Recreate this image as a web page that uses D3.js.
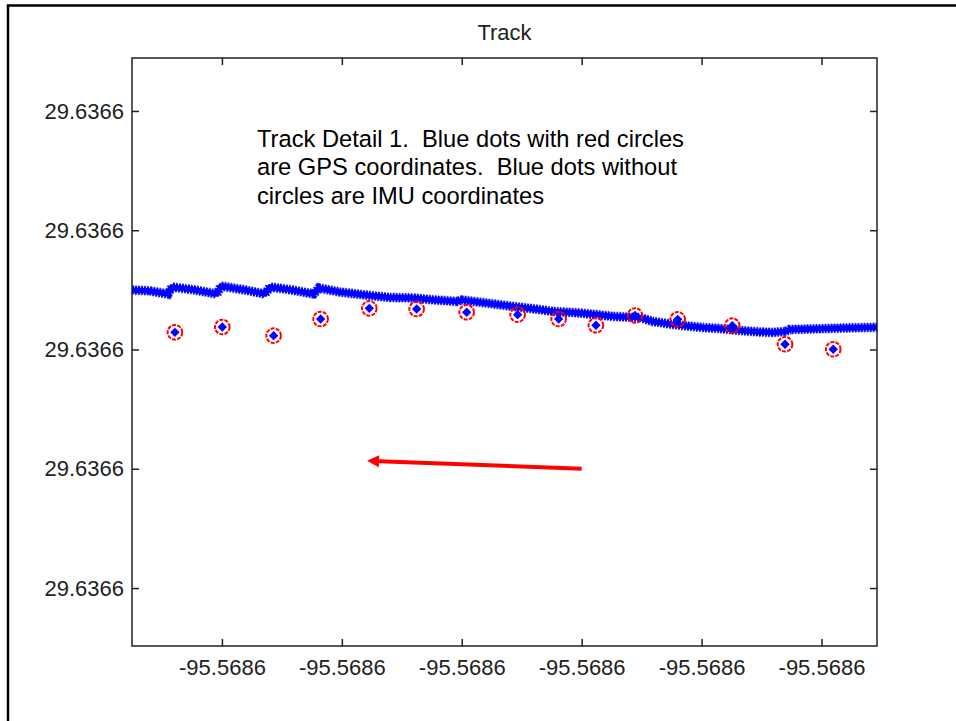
<!DOCTYPE html>
<html>
<head>
<meta charset="utf-8">
<script src="https://cdn.jsdelivr.net/npm/d3@7"></script>
<style>
  body { margin: 0; background: #fff; }
  svg { display: block; }
  .tick text { font-family: "Liberation Sans", Arial, sans-serif; font-size: 22px; fill: #222; }
  .tick line { stroke: #222; stroke-width: 1.5; }
</style>
</head>
<body>
<div id="content"></div>
<script>
// coordinates are micro-degrees offset from these bases
const lonBase = -95.5686;
const latBase = 29.6366;

const xTicks = [-40, -30, -20, -10, 0, 10];
const yTicks = [-40, -30, -20, -10, 0];

// GPS fixes (red circles)
const gpsLon = [-43.92, -39.97, -35.69, -31.77, -27.71, -23.76, -19.59, -15.34, -11.92, -8.81, -5.55, -1.99, 2.56, 6.96, 10.98];
const gpsLat = [-18.56, -18.11, -18.84, -17.44, -16.55, -16.60, -16.88, -17.08, -17.44, -17.97, -17.15, -17.47, -18.00, -19.56, -19.98];

// IMU track (blue band)
const imuLon = [-47.5, -46.0, -44.5, -44.17, -42.25, -40.42, -40.08, -38.08, -36.41, -36.0, -34.16, -32.33, -31.91, -30.16,
  -28.07, -25.99, -24.07, -22.24, -20.40, -19.98, -17.65, -15.73, -13.89, -12.39, -10.14, -8.47, -7.39, -5.14, -4.05,
  -2.64, -1.22, 0.12, 1.53, 3.20, 4.87, 5.95, 6.96, 7.37, 9.04, 10.46, 12.63, 14.63];
const imuLat = [-15.01, -15.09, -15.35, -14.76, -15.01, -15.35, -14.68, -15.01, -15.35, -14.76, -15.01, -15.35, -14.84, -15.18,
  -15.43, -15.64, -15.68, -15.85, -15.97, -15.85, -16.14, -16.39, -16.60, -16.81, -16.94, -17.11, -17.23, -17.32, -17.65,
  -17.86, -18.03, -18.16, -18.24, -18.41, -18.53, -18.57, -18.49, -18.32, -18.28, -18.24, -18.18, -18.14];

// direction arrow (from, to)
const arrowLon = [-10, -27.9];
const arrowLat = [-30, -29.33];

const noteLines = [
  "Track Detail 1.  Blue dots with red circles",
  "are GPS coordinates.  Blue dots without",
  "circles are IMU coordinates"
];

const w = 956, h = 721;
const pLeft = 132, pRight = 877, pTop = 58, pBottom = 646;

const svg = d3.select("#content").append("svg").attr("width", w).attr("height", h);

// figure frame
svg.append("rect").attr("x", 8).attr("y", 5.5).attr("width", 1000).attr("height", 1000)
  .attr("fill", "none").attr("stroke", "#000").attr("stroke-width", 2.5);

const x = d3.scaleLinear().domain([-47.5, 14.63]).range([pLeft, pRight]);
const y = d3.scaleLinear().domain([-44.86, 4.44]).range([pBottom, pTop]);

const fmtX = d => (lonBase + d * 1e-6).toFixed(4);
const fmtY = d => (latBase + d * 1e-6).toFixed(4);

svg.append("g").attr("transform", `translate(0,${pBottom})`)
  .call(d3.axisBottom(x).tickValues(xTicks).tickFormat(fmtX).tickSizeInner(-7).tickSizeOuter(0).tickPadding(13))
  .call(g => g.select(".domain").remove());
svg.append("g").attr("transform", `translate(0,${pTop})`)
  .call(d3.axisTop(x).tickValues(xTicks).tickFormat("").tickSizeInner(-7).tickSizeOuter(0))
  .call(g => g.select(".domain").remove());
svg.append("g").attr("transform", `translate(${pLeft},0)`)
  .call(d3.axisLeft(y).tickValues(yTicks).tickFormat(fmtY).tickSizeInner(-7).tickSizeOuter(0).tickPadding(8))
  .call(g => g.select(".domain").remove());
svg.append("g").attr("transform", `translate(${pRight},0)`)
  .call(d3.axisRight(y).tickValues(yTicks).tickFormat("").tickSizeInner(-7).tickSizeOuter(0))
  .call(g => g.select(".domain").remove());

const plot = svg.append("g");

// IMU band: solid core plus toothed edge to look like packed markers
const imu = imuLon.map((v, i) => [v, imuLat[i]]);
const line = d3.line().x(d => x(d[0])).y(d => y(d[1]));
plot.append("path").attr("d", line(imu)).attr("fill", "none")
  .attr("stroke", "#6f6fff").attr("stroke-width", 10).attr("stroke-dasharray", "1.5,1.5");
plot.append("path").attr("d", line(imu)).attr("fill", "none")
  .attr("stroke", "#0000ff").attr("stroke-width", 8.5).attr("stroke-dasharray", "2,1");
plot.append("path").attr("d", line(imu)).attr("fill", "none")
  .attr("stroke", "#0000ff").attr("stroke-width", 5.5);

// GPS points
const gps = gpsLon.map((v, i) => [v, gpsLat[i]]);
plot.selectAll(".gps").data(gps).enter().append("circle").attr("class", "gps")
  .attr("cx", d => x(d[0])).attr("cy", d => y(d[1])).attr("r", 7.3)
  .attr("fill", "none").attr("stroke", "#ff0000").attr("stroke-width", 2)
  .attr("stroke-dasharray", "4,1.2");
plot.selectAll(".gpsdot").data(gps).enter().append("path").attr("class", "gpsdot")
  .attr("d", d3.symbol(d3.symbolSquare, 44))
  .attr("transform", d => `translate(${x(d[0])},${y(d[1])}) rotate(45)`)
  .attr("fill", "#0000ff");

// arrow
const ax0 = x(arrowLon[0]), ay0 = y(arrowLat[0]);
const ax1 = x(arrowLon[1]), ay1 = y(arrowLat[1]);
const ang = Math.atan2(ay1 - ay0, ax1 - ax0);
const headLen = 12, headW = 6;
const bx = ax1 - headLen * Math.cos(ang), by = ay1 - headLen * Math.sin(ang);
plot.append("line").attr("x1", ax0).attr("y1", ay0).attr("x2", bx).attr("y2", by)
  .attr("stroke", "#ff0000").attr("stroke-width", 4);
plot.append("path")
  .attr("d", `M${ax1},${ay1}L${bx - headW * Math.sin(ang)},${by + headW * Math.cos(ang)}` +
    `L${bx + headW * Math.sin(ang)},${by - headW * Math.cos(ang)}Z`)
  .attr("fill", "#ff0000");

// annotation (keep the double spaces)
svg.append("text").attr("x", 257).attr("y", 146.5)
  .style("font-family", "'Liberation Sans', Arial, sans-serif").style("font-size", "23.7px")
  .style("white-space", "pre").attr("xml:space", "preserve").attr("fill", "#000")
  .selectAll("tspan").data(noteLines).enter().append("tspan")
  .attr("x", 257).attr("dy", (d, i) => i === 0 ? 0 : 28.5).text(d => d);

// plot box
svg.append("rect").attr("x", pLeft).attr("y", pTop).attr("width", pRight - pLeft).attr("height", pBottom - pTop)
  .attr("fill", "none").attr("stroke", "#222").attr("stroke-width", 1.5);

// title
svg.append("text").attr("x", (pLeft + pRight) / 2).attr("y", 40).attr("text-anchor", "middle")
  .style("font-family", "'Liberation Sans', Arial, sans-serif").style("font-size", "22px").attr("fill", "#222")
  .text("Track");
</script>
</body>
</html>
